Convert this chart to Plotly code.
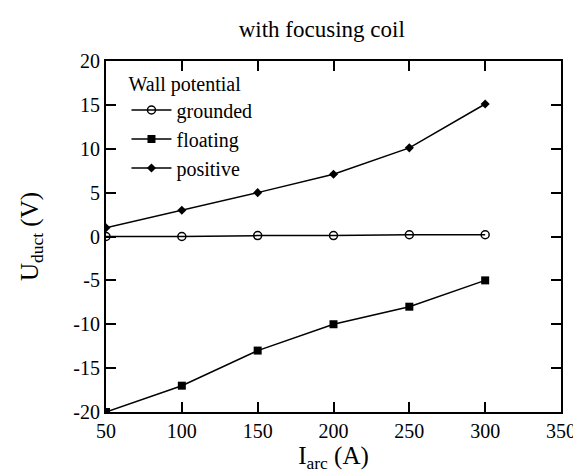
import plotly.graph_objects as go

currents = [50, 100, 150, 200, 250, 300]
grounded = [0.0, 0.0, 0.1, 0.1, 0.2, 0.2]
floating = [-20.0, -17.0, -13.0, -10.0, -8.0, -5.0]
positive = [1.0, 3.0, 5.0, 7.1, 10.1, 15.1]
x_ticks = [50, 100, 150, 200, 250, 300, 350]
y_ticks = [-20, -15, -10, -5, 0, 5, 10, 15, 20]

fig = go.Figure()
fig.add_trace(go.Scatter(x=currents, y=grounded, name="grounded", mode="lines+markers",
                         line=dict(color="black", width=1.5),
                         marker=dict(symbol="circle-open", size=8, color="black", line=dict(width=1.5))))
fig.add_trace(go.Scatter(x=currents, y=floating, name="floating", mode="lines+markers",
                         line=dict(color="black", width=1.5),
                         marker=dict(symbol="square", size=8, color="black")))
fig.add_trace(go.Scatter(x=currents, y=positive, name="positive", mode="lines+markers",
                         line=dict(color="black", width=1.5),
                         marker=dict(symbol="diamond", size=7, color="black")))

font = "Times New Roman"
fig.update_layout(
    width=581, height=475,
    margin=dict(l=98, r=28, t=53, b=71),
    paper_bgcolor="white", plot_bgcolor="white",
    font=dict(family=font, color="black", size=20),
    title=dict(text="with focusing coil", x=0.54, xanchor="center", y=0.955, yanchor="middle",
               font=dict(size=23, family=font, color="black")),
    legend=dict(x=0.045, y=0.99, xanchor="left", yanchor="top", bgcolor="rgba(0,0,0,0)",
                title=dict(text="Wall potential", font=dict(size=20, family=font, color="black")),
                font=dict(size=20, family=font, color="black"), tracegroupgap=0, itemwidth=40),
    showlegend=True,
)
fig.update_xaxes(range=[50, 350], tickmode="array", tickvals=x_ticks, ticktext=[str(v) for v in x_ticks],
                 ticks="inside", ticklen=10, tickwidth=2, tickcolor="black",
                 showline=True, linewidth=2, linecolor="black",
                 mirror="allticks", showgrid=False, zeroline=False,
                 title=dict(text="I<sub>arc</sub> (A)", font=dict(size=25, family=font, color="black"), standoff=0),
                 tickfont=dict(size=20, family=font, color="black"))
fig.update_yaxes(range=[-20, 20], tickmode="array", tickvals=y_ticks, ticktext=[str(v) for v in y_ticks],
                 ticks="inside", ticklen=10, tickwidth=2, tickcolor="black",
                 showline=True, linewidth=2, linecolor="black",
                 mirror="allticks", showgrid=False, zeroline=False,
                 title=dict(text="U<sub>duct</sub> (V)", font=dict(size=25, family=font, color="black"), standoff=28),
                 tickfont=dict(size=20, family=font, color="black"))

fig.write_html("out.html")
